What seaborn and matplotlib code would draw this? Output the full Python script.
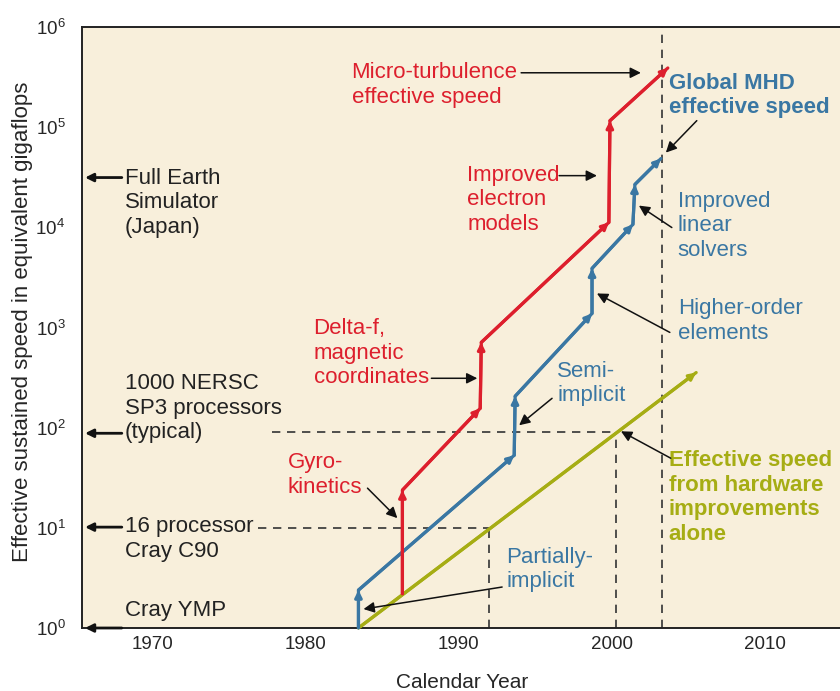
import numpy as np
import pandas as pd
import matplotlib
matplotlib.use("Agg")
import matplotlib.pyplot as plt
import seaborn as sns

# data (year, gigaflops)
mhd_year = [1983.45, 1983.45, 1993.62, 1993.68, 1998.70, 1998.70, 2001.37, 2001.50, 2003.20]
mhd_speed = [1.0, 2.39, 53, 206, 1380, 3890, 10700, 26800, 48600]

micro_year = [1986.32, 1986.32, 1991.40, 1991.47, 1999.80, 1999.87, 2003.65]
micro_speed = [2.2, 23.8, 156, 710, 11200, 116000, 390000]

hw_year = [1983.45, 2005.5]
hw_speed = [1.0, 355]

# reference machines (dashed guides)
c90_speed, c90_year = 10, 1992.0
sp3_speed, sp3_year = 90, 2000.26
earth_year = 2003.26

xticks = [1970, 1980, 1990, 2000, 2010]
yticks = [1, 10, 100, 1000, 10000, 100000, 1000000]

RED = "#dd1f2d"
BLUE = "#3a77a3"
OLIVE = "#a6ad14"
BG = "#f8efdb"
DASH = "#333333"

sns.set_style("white")
plt.rcParams['font.family'] = ['Liberation Sans', 'DejaVu Sans']
plt.rcParams['mathtext.default'] = 'regular'

fig = plt.figure(figsize=(8.4, 6.91), dpi=100)
ax = fig.add_axes([82 / 840, 1 - 628 / 691, 1 - 82 / 840 + 0.002, (628 - 27) / 691])
ax.set_facecolor(BG)

# main curves
for yrs, spd, col in [(hw_year, hw_speed, OLIVE), (mhd_year, mhd_speed, BLUE), (micro_year, micro_speed, RED)]:
    df = pd.DataFrame({"year": yrs, "speed": spd})
    sns.lineplot(data=df, x="year", y="speed", sort=False, estimator=None, color=col, lw=2.3,
                 ax=ax, zorder=3)
    for i in range(len(yrs) - 1):
        ax.annotate("", xy=(yrs[i + 1], spd[i + 1]), xytext=(yrs[i], spd[i]),
                    arrowprops=dict(arrowstyle="-|>", color=col, lw=2.3, mutation_scale=10,
                                    shrinkA=0, shrinkB=0), zorder=3)

# dashed guides
dash = dict(color=DASH, lw=1.2, ls=(0, (5, 4)), zorder=2)
ax.plot([1976.9, c90_year], [c90_speed, c90_speed], **dash)
ax.plot([c90_year, c90_year], [1, c90_speed], **dash)
ax.plot([1977.8, sp3_year], [sp3_speed, sp3_speed], **dash)
ax.plot([sp3_year, sp3_year], [1, sp3_speed], **dash)
ax.plot([earth_year, earth_year], [1, 1e6], **dash)

ax.set_yscale("log")
ax.set_xlim(1965.4, 2015.0)
ax.set_ylim(1, 1e6)
ax.set_xticks(xticks)
ax.set_xticklabels([str(t) for t in xticks])
ax.set_yticks(yticks)
ax.set_yticklabels(["10$^{%d}$" % int(np.log10(t)) for t in yticks])
ax.minorticks_off()
ax.tick_params(axis="x", direction="in", length=16, width=1.1, color="black", pad=6, labelsize=13.5)
ax.tick_params(axis="y", direction="in", length=18, width=1.1, color="black", pad=12, labelsize=13.5)
ax.xaxis.get_major_ticks()[0].tick1line.set_visible(False)
ax.yaxis.get_major_ticks()[0].tick1line.set_visible(False)
ax.yaxis.get_major_ticks()[-1].tick1line.set_visible(False)
for s in ["left", "bottom", "top"]:
    ax.spines[s].set_color("#222222")
    ax.spines[s].set_linewidth(1.4)
ax.spines["right"].set_visible(False)

ax.set_xlabel("Calendar Year", fontsize=15, labelpad=14)
ax.set_ylabel("Effective sustained speed in equivalent gigaflops", fontsize=16)
ax.yaxis.set_label_coords(-0.064, 0.509)

fs = 16
lsp = 1.22


def note(txt, x, y, col, bold=False):
    ax.text(x, y, txt, color=col, fontsize=fs, va="center", ha="left", linespacing=lsp,
            fontweight="bold" if bold else "normal", zorder=4)


def arrow(x0, y0, x1, y1):
    ax.annotate("", xy=(x1, y1), xytext=(x0, y0),
                arrowprops=dict(arrowstyle="-|>", color="#111111", lw=1.1, mutation_scale=16,
                                shrinkA=0, shrinkB=0), zorder=4)


L = lambda v: 10 ** v

note("Micro-turbulence\neffective speed", 1983.0, L(5.419), RED)
arrow(1994.07, L(5.543), 2001.89, L(5.543))
note("Global MHD\neffective speed", 2003.71, L(5.314), BLUE, bold=True)
arrow(2005.54, L(5.065), 2003.52, L(4.746))
note("Improved\nelectron\nmodels", 1990.55, L(4.277), RED)
arrow(1996.55, L(4.516), 1999.02, L(4.516))
note("Delta-f,\nmagnetic\ncoordinates", 1980.52, L(2.742), RED)
arrow(1988.21, L(2.493), 1991.21, L(2.493))
note("Semi-\nimplicit", 1996.42, L(2.443), BLUE)
arrow(1996.09, L(2.293), 1993.94, L(2.024))
note("Improved\nlinear\nsolvers", 2004.3, L(4.018), BLUE)
arrow(2003.91, L(3.998), 2001.76, L(4.217))
note("Higher-order\nelements", 2004.3, L(3.066), BLUE)
arrow(2003.78, L(2.951), 1999.02, L(3.340))
note("Partially-\nimplicit", 1993.1, L(0.583), BLUE)
arrow(1992.83, L(0.409), 1983.78, L(0.189))
note("Gyro-\nkinetics", 1978.83, L(1.530), RED)
arrow(1984.04, L(1.396), 1985.99, L(1.097))
note("Effective speed\nfrom hardware\nimprovements\nalone", 2003.71, L(1.301), OLIVE, bold=True)
arrow(2003.84, L(1.695), 2000.59, L(1.964))

# machines on the left
note("Full Earth\nSimulator\n(Japan)", 1968.21, L(4.247), "#222222")
note("1000 NERSC\nSP3 processors\n(typical)", 1968.21, L(2.193), "#222222")
note("16 processor\nCray C90", 1968.21, L(0.887), "#222222")
note("Cray YMP", 1968.21, L(0.179), "#222222")
for lv in [4.497, 1.944, 1.007, 0.0]:
    ax.annotate("", xy=(1965.6, L(lv)), xytext=(1968.0, L(lv)),
                arrowprops=dict(arrowstyle="-|>", color="#111111", lw=2.0, mutation_scale=12,
                                shrinkA=0, shrinkB=0), zorder=4, annotation_clip=False)

fig.savefig("out.png", dpi=100, facecolor="white")
